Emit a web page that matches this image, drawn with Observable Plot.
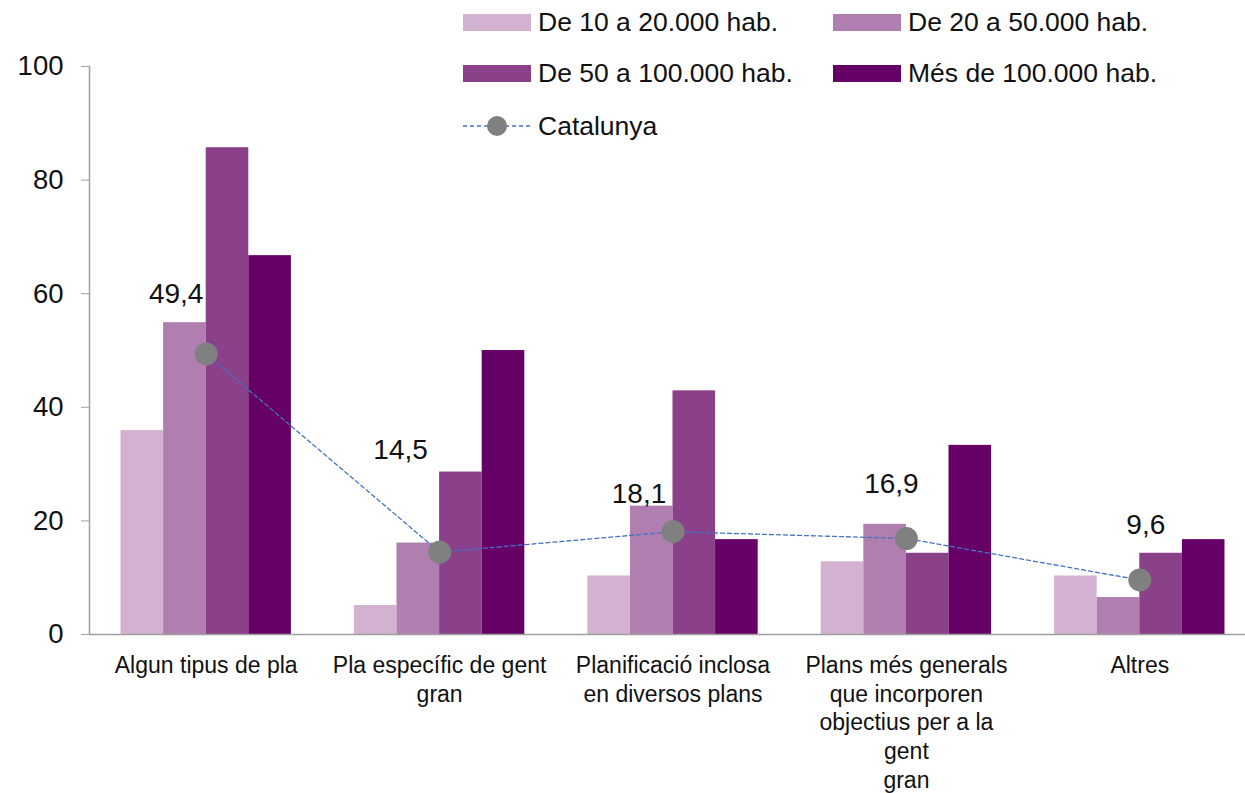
<!DOCTYPE html>
<html>
<head>
<meta charset="utf-8">
<script src="https://cdn.jsdelivr.net/npm/d3@7"></script>
<script src="https://cdn.jsdelivr.net/npm/@observablehq/plot@0.6"></script>
<style>
  html, body { margin: 0; padding: 0; background: #fff; overflow: hidden; }
  #wrap { position: relative; width: 1245px; height: 793px; font-family: "Liberation Sans", Arial, sans-serif; }
  #chart { position: absolute; left: 0; top: 0; }
  #legend { position: absolute; left: 0; top: 0; width: 1245px; height: 150px; pointer-events: none; }
  .item { position: absolute; display: flex; align-items: center; font-size: 26.5px; color: #111; height: 30px; white-space: nowrap; }
  .sw { width: 68px; height: 17px; margin-right: 7px; }
</style>
</head>
<body>
<div id="wrap">
  <div id="chart"></div>
  <div id="legend"></div>
</div>
<script>
// ---- data ----
const categories = [
  "Algun tipus de pla",
  "Pla específic de gent\ngran",
  "Planificació inclosa\nen diversos plans",
  "Plans més generals\nque incorporen\nobjectius per a la\ngent\ngran",
  "Altres"
];
const seriesNames = [
  "De 10 a 20.000 hab.",
  "De 20 a 50.000 hab.",
  "De 50 a 100.000 hab.",
  "Més de 100.000 hab."
];
const s10_20   = [35.9, 5.1, 10.3, 12.8, 10.3];
const s20_50   = [54.9, 16.1, 22.6, 19.4, 6.5];
const s50_100  = [85.7, 28.6, 42.9, 14.3, 14.3];
const s100plus = [66.7, 50.0, 16.7, 33.3, 16.7];
const catalunya = [49.4, 14.5, 18.1, 16.9, 9.6];
const yTicks = [0, 20, 40, 60, 80, 100];

// ---- styling / layout ----
const colors = ["#d3b1d0", "#b07fb0", "#8b408a", "#660066"];
const groupWidth = 0.73;
const barW = groupWidth / 4;
const labelShift = [[-30, -60], [-39, -102], [-34, -38], [-15, -54], [6, -55]];

const seriesValues = [s10_20, s20_50, s50_100, s100plus];
const bars = [];
seriesValues.forEach((vals, j) => {
  vals.forEach((v, i) => {
    bars.push({i, j, series: seriesNames[j], value: v,
      x1: i - groupWidth / 2 + j * barW, x2: i - groupWidth / 2 + (j + 1) * barW});
  });
});
const cat = catalunya.map((v, i) => ({i, value: v, label: String(v).replace(".", ",")}));

const plot = Plot.plot({
  width: 1245,
  height: 793,
  marginTop: 66,
  marginBottom: 159,
  marginLeft: 89,
  marginRight: 0,
  style: {fontFamily: '"Liberation Sans", Arial, sans-serif', color: "#111", background: "transparent", overflow: "visible"},
  x: {type: "linear", domain: [-0.5, 4.5], range: [89, 1256]},
  y: {domain: [0, 100]},
  color: {domain: seriesNames, range: colors},
  marks: [
    Plot.rectY(bars, {x1: "x1", x2: "x2", y: "value", fill: "series"}),
    Plot.ruleY([0], {stroke: "#a0a0a0", strokeWidth: 1.5}),
    Plot.ruleX([-0.5], {y1: 0, y2: 100, stroke: "#a0a0a0", strokeWidth: 1.5}),
    Plot.axisY({ticks: yTicks, tickSize: 8, tickPadding: 18, fontSize: 27.5, stroke: "#a0a0a0", fill: "#111", label: null}),
    Plot.axisX({ticks: categories.map((c, i) => i), tickFormat: i => categories[i], tickSize: 0, tickPadding: 18, fontSize: 23, lineHeight: 1.25, label: null, fill: "#111"}),
    Plot.line(cat, {x: "i", y: "value", stroke: "#4472c4", strokeWidth: 1.3, strokeDasharray: "4,3"}),
    Plot.dot(cat, {x: "i", y: "value", r: 11.5, fill: "#808080"}),
    ...cat.map((d, k) => Plot.text([d], {x: "i", y: "value", text: "label", dx: labelShift[k][0], dy: labelShift[k][1], fontSize: 28, fill: "#111"}))
  ]
});
document.getElementById("chart").appendChild(plot);

// ---- legend ----
const legend = document.getElementById("legend");
const legendItems = [
  {name: seriesNames[0], color: colors[0], left: 463, cy: 22},
  {name: seriesNames[1], color: colors[1], left: 833, cy: 22},
  {name: seriesNames[2], color: colors[2], left: 463, cy: 73},
  {name: seriesNames[3], color: colors[3], left: 833, cy: 73}
];
legendItems.forEach(it => {
  const d = document.createElement("div");
  d.className = "item";
  d.style.left = it.left + "px";
  d.style.top = (it.cy - 15) + "px";
  d.innerHTML = `<div class="sw" style="background:${it.color}"></div><span>${it.name}</span>`;
  legend.appendChild(d);
});
const lc = document.createElement("div");
lc.className = "item";
lc.style.left = "463px";
lc.style.top = (126 - 15) + "px";
lc.innerHTML = `<svg width="68" height="30" style="margin-right:7px"><line x1="0" y1="15" x2="68" y2="15" stroke="#4472c4" stroke-width="1.3" stroke-dasharray="4,3"/><circle cx="34" cy="15" r="10" fill="#808080"/></svg><span>Catalunya</span>`;
legend.appendChild(lc);
</script>
</body>
</html>
